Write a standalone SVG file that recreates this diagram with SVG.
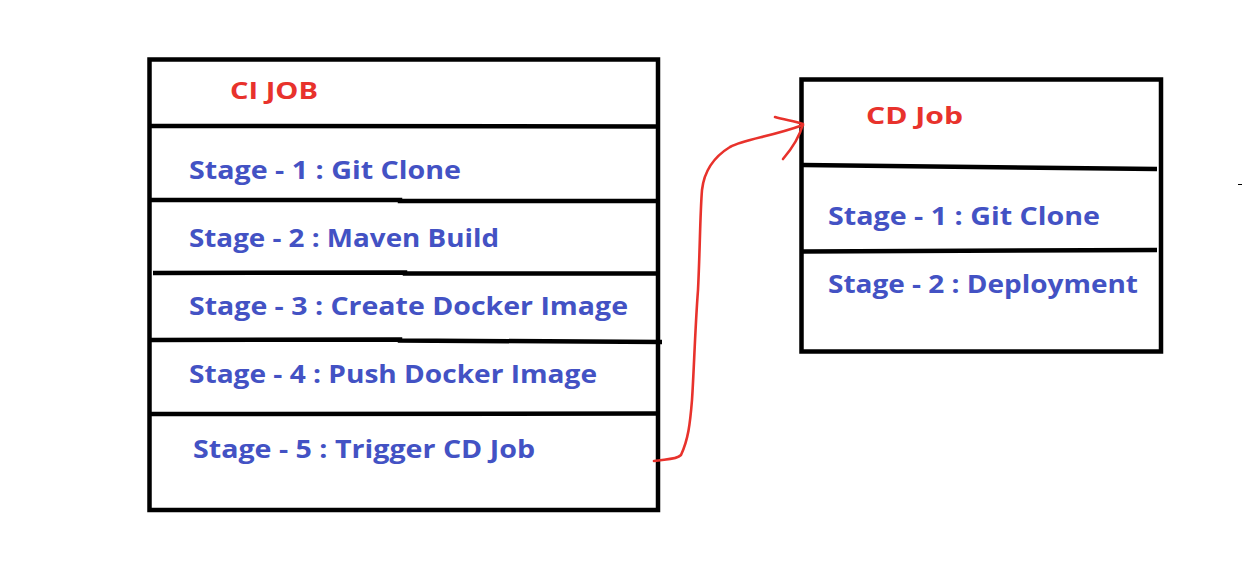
<svg xmlns="http://www.w3.org/2000/svg" width="1242" height="574" viewBox="0 0 1242 574">
<style>
.box{fill:none;stroke:#000;stroke-width:4.5}
.div{stroke:#000;stroke-width:4.5;fill:none}
.title{font-family:"Open Sans","Liberation Sans",sans-serif;font-weight:700;font-size:24px;fill:#e8322c}
.stage{font-family:"Open Sans","Liberation Sans",sans-serif;font-weight:700;font-size:25px;fill:#4352c4}
.conn{fill:none;stroke:#e8322c;stroke-width:2.6;stroke-linecap:round;stroke-linejoin:round}
</style>
<rect width="1242" height="574" fill="#fff"/>
<g id="ci-job">
<rect class="box" x="149.5" y="59.5" width="508.5" height="450.5"/>
<path class="div" d="M151 126 L656 126.5"/>
<path class="div" d="M151 200 L400 200 L400 201 L658 201"/>
<path class="div" d="M153 273 L405 272.5 L405 273.5 L658 273.5"/>
<path class="div" d="M151 340 L400 339.5 L400 340.5 L662 342"/>
<path class="div" d="M151 414 L658 413.5"/>
<text class="title" x="230" y="99" textLength="88" lengthAdjust="spacingAndGlyphs">CI JOB</text>
<text class="stage" x="189" y="179" textLength="272" lengthAdjust="spacingAndGlyphs">Stage - 1 : Git Clone</text>
<text class="stage" x="189" y="247" textLength="310" lengthAdjust="spacingAndGlyphs">Stage - 2 : Maven Build</text>
<text class="stage" x="189" y="315" textLength="439" lengthAdjust="spacingAndGlyphs">Stage - 3 : Create Docker Image</text>
<text class="stage" x="189" y="383" textLength="408" lengthAdjust="spacingAndGlyphs">Stage - 4 : Push Docker Image</text>
<text class="stage" x="193" y="458" textLength="342" lengthAdjust="spacingAndGlyphs">Stage - 5 : Trigger CD Job</text>
</g>
<g id="cd-job">
<rect class="box" x="801.5" y="79.5" width="359.5" height="272"/>
<path class="div" d="M803 165 L1157 169"/>
<path class="div" d="M803 251.5 L1157 250"/>
<text class="title" x="866" y="124" textLength="97" lengthAdjust="spacingAndGlyphs">CD Job</text>
<text class="stage" x="828" y="225" textLength="272" lengthAdjust="spacingAndGlyphs">Stage - 1 : Git Clone</text>
<text class="stage" x="828" y="293" textLength="310" lengthAdjust="spacingAndGlyphs">Stage - 2 : Deployment</text>
</g>
<g id="connectors">
<path class="conn" d="M654 461 C665 459 676 460 681 455 C688 440 690 425 692 400 C694 370 695 330 698 290 C700 250 700 215 702 190 C704 172 712 158 730 147 C745 139 770 137 803 125"/>
<path class="conn" d="M775 117 C785 120 795 121 803 124 C800 135 795 145 783 159"/>
</g>
<path d="M1238 184.5 L1242 184.5" stroke="#000" stroke-width="1"/>
</svg>
